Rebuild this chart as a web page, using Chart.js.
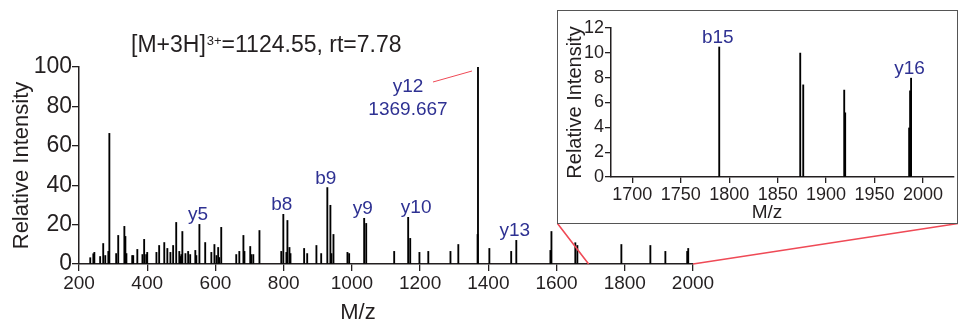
<!DOCTYPE html>
<html>
<head>
<meta charset="utf-8">
<script src="https://cdn.jsdelivr.net/npm/chart.js@4.4.1/dist/chart.umd.min.js"></script>
<style>
  html, body { margin: 0; padding: 0; background: #fff; }
  #wrap { position: relative; width: 959px; height: 321px; overflow: hidden; }
  #main { position: absolute; left: 0; top: 0; }
  #inset-box { position: absolute; left: 557px; top: 10px; width: 401px; height: 214px;
               box-sizing: border-box; border: 1px solid #555; background: #fff; }
  #inset { display: block; }
</style>
</head>
<body>
<div id="wrap">
  <canvas id="main" width="959" height="321"></canvas>
  <div id="inset-box"><canvas id="inset" width="399" height="212"></canvas></div>
</div>
<script>
// --- DATA ---
const mainMz = [233, 242, 245, 262, 271, 277, 286, 289, 309, 315, 333, 336, 339, 356, 359, 371, 386, 391, 397, 400,
    427, 435, 450, 459, 468, 476, 485, 494, 497, 500, 503, 512, 520, 526, 541, 544, 553, 570, 588, 597,
    603, 608, 611, 617, 661, 670, 682, 685, 702, 705, 711, 729, 793, 799, 808, 811, 817, 820, 860, 869,
    896, 910, 928, 937, 940, 946, 987, 992, 1036, 1042, 1124, 1165, 1171, 1198, 1224, 1289, 1312, 1368.5, 1369.667, 1403,
    1467, 1482, 1582, 1585, 1655, 1661, 1790, 1875, 1919, 1983, 1986];
const mainIntensity = [3.2, 5.2, 5.9, 3.8, 10.4, 4.3, 6.4, 66.3, 5.3, 14.5, 19.1, 14.0, 5.3, 4.3, 4.3, 7.4, 4.8, 12.5, 4.8, 5.9,
    5.9, 9.4, 10.9, 7.9, 5.9, 9.4, 21.1, 6.4, 3.8, 4.8, 16.5, 5.3, 6.4, 4.8, 6.9, 4.3, 20.1, 10.9, 5.9, 9.9,
    4.3, 8.4, 3.3, 18.6, 4.8, 6.4, 14.5, 6.4, 8.9, 4.8, 4.8, 17.0, 6.4, 25.2, 5.9, 22.1, 8.4, 5.3, 7.9, 5.3,
    9.4, 5.3, 38.8, 29.8, 5.3, 15.0, 5.9, 5.3, 23.2, 20.6, 6.4, 23.7, 13.0, 5.9, 6.4, 6.4, 9.9, 15.0, 100, 7.9,
    6.4, 12.0, 6.9, 16.5, 10.8, 9.4, 9.9, 9.4, 6.4, 6.4, 7.9];
const mainXTicks = [200, 400, 600, 800, 1000, 1200, 1400, 1600, 1800, 2000];
const mainYTicks = [0, 20, 40, 60, 80, 100];

const ionNames = ['y5', 'b8', 'b9', 'y9', 'y10', 'y13'];
const ionMz = [553, 799, 928, 1036, 1165, 1482];
const baseIonName = 'y12';
const baseIonMz = 1369.667;

const insetMz = [1789.7, 1873.3, 1876.4, 1918.7, 1919.7, 1985.7, 1986.7, 1987.7];
const insetIntensity = [10.47, 9.98, 7.42, 7.0, 5.17, 3.95, 6.94, 7.96];
const insetXTicks = [1700, 1750, 1800, 1850, 1900, 1950, 2000];
const insetYTicks = [0, 2, 4, 6, 8, 10, 12];
const insetIonNames = ['b15', 'y16'];
const insetIonMz = [1789.7, 1987.7];

const zoomRange = [1694, 2000];

// --- STYLE ---
const FONT = '"Liberation Sans", Arial, sans-serif';
const INK = '#231f20';
const ION_BLUE = '#2e3192';
const RED = '#ef4a56';
const ionNudge = { y10: 8 };

function axisOpts(min, max, ticks, fit, fontSize, tickLen, pad) {
    return {
        type: 'linear', min: min, max: max, offset: false,
        afterBuildTicks: s => { s.ticks = ticks.map(v => ({ value: v })); },
        afterFit: fit,
        grid: { display: true, offset: false, drawOnChartArea: false, drawTicks: true, tickLength: tickLen, color: INK, lineWidth: 1.3 },
        border: { display: true, color: INK, width: 1.5 },
        ticks: { font: { family: FONT, size: fontSize }, color: INK, padding: pad, maxRotation: 0, autoSkip: false,
                 callback: v => String(v) }
    };
}

function drawIons(chart, names, mzs, mzArr, intArr, fontSize) {
    const { ctx, scales: { x, y } } = chart;
    ctx.save();
    ctx.fillStyle = ION_BLUE;
    ctx.font = fontSize + 'px ' + FONT;
    ctx.textAlign = 'center';
    ctx.textBaseline = 'alphabetic';
    names.forEach((name, i) => {
        const k = mzArr.indexOf(mzs[i]);
        const px = x.getPixelForValue(mzs[i]) + (ionNudge[name] !== undefined ? ionNudge[name] : -1.5);
        const py = y.getPixelForValue(intArr[k]) - 4;
        ctx.fillText(name, px, py);
    });
    ctx.restore();
}

const mainDecor = {
    id: 'mainDecor',
    afterDraw(chart) {
        const { ctx, chartArea: a, scales: { x, y } } = chart;
        ctx.save();
        // title with superscript
        ctx.fillStyle = INK;
        ctx.textBaseline = 'alphabetic';
        ctx.textAlign = 'left';
        let tx = a.left + 52;
        const ty = a.top - 15.5;
        ctx.font = '23px ' + FONT;
        ctx.fillText('[M+3H]', tx, ty);
        tx += ctx.measureText('[M+3H]').width + 1;
        ctx.font = '13px ' + FONT;
        ctx.fillText('3+', tx, ty - 7);
        tx += ctx.measureText('3+').width;
        ctx.font = '23px ' + FONT;
        ctx.fillText('=1124.55, rt=7.78', tx, ty);
        // x title
        ctx.font = '22px ' + FONT;
        ctx.textAlign = 'center';
        ctx.fillText('M/z', a.left + 279, a.bottom + 54.5);

        // base peak label + leader
        const bx = x.getPixelForValue(baseIonMz);
        const bTop = y.getPixelForValue(mainIntensity[mainMz.indexOf(baseIonMz)]);
        ctx.fillStyle = ION_BLUE;
        ctx.font = '19px ' + FONT;
        ctx.fillText(baseIonName, bx - 70, bTop + 25);
        ctx.fillText(baseIonMz.toFixed(3), bx - 70, bTop + 48);
        ctx.strokeStyle = RED;
        ctx.lineWidth = 1;
        ctx.beginPath();
        ctx.moveTo(bx - 45, bTop + 15);
        ctx.lineTo(bx - 6, bTop + 4);
        ctx.stroke();

        // zoom connectors to the inset box
        const box = document.getElementById('inset-box');
        const boxBottom = box.offsetTop + box.offsetHeight - 0.5;
        const y0 = y.getPixelForValue(0);
        ctx.lineWidth = 1.6;
        ctx.beginPath();
        ctx.moveTo(x.getPixelForValue(zoomRange[0]), y0);
        ctx.lineTo(box.offsetLeft + 0.5, boxBottom);
        ctx.moveTo(x.getPixelForValue(zoomRange[1]), y0);
        ctx.lineTo(box.offsetLeft + box.offsetWidth, boxBottom);
        ctx.stroke();
        ctx.restore();

        drawIons(chart, ionNames, ionMz, mainMz, mainIntensity, 19);
    }
};

const insetDecor = {
    id: 'insetDecor',
    afterDraw(chart) {
        const { ctx, chartArea: a } = chart;
        ctx.save();
        ctx.fillStyle = INK;
        ctx.font = '19px ' + FONT;
        ctx.textAlign = 'center';
        ctx.textBaseline = 'alphabetic';
        ctx.fillText('M/z', a.left + 156, a.bottom + 41);
        ctx.restore();
        drawIons(chart, insetIonNames, insetIonMz, insetMz, insetIntensity, 19);
    }
};

new Chart(document.getElementById('main'), {
    type: 'bar',
    data: {
        datasets: [{
            data: mainMz.map((m, i) => ({ x: m, y: mainIntensity[i] })),
            backgroundColor: '#000',
            barThickness: 1.2,
            grouped: false
        }]
    },
    options: {
        responsive: false,
        devicePixelRatio: 1,
        animation: false,
        layout: { padding: { left: 0, right: 266, top: 67, bottom: 0 } },
        plugins: { legend: { display: false }, tooltip: { enabled: false }, title: { display: false } },
        scales: {
            x: axisOpts(200, 2000, mainXTicks, s => { s.height = 57; }, 19, 7, 1),
            y: Object.assign(axisOpts(0, 100, mainYTicks, s => { s.width = 79; }, 23, 7, 0), {
                title: { display: true, text: 'Relative Intensity', color: INK, font: { family: FONT, size: 22 }, padding: { top: 9, bottom: 0 } }
            })
        }
    },
    plugins: [mainDecor]
});

new Chart(document.getElementById('inset'), {
    type: 'bar',
    data: {
        datasets: [{
            data: insetMz.map((m, i) => ({ x: m, y: insetIntensity[i] })),
            backgroundColor: '#000',
            barThickness: 1.2,
            grouped: false
        }]
    },
    options: {
        responsive: false,
        devicePixelRatio: 1,
        animation: false,
        layout: { padding: { left: 0, right: 3, top: 17, bottom: 0 } },
        plugins: { legend: { display: false }, tooltip: { enabled: false } },
        scales: {
            x: axisOpts(1678, 2032, insetXTicks, s => { s.height = 46; }, 18, 6, 1),
            y: Object.assign(axisOpts(0, 12, insetYTicks, s => { s.width = 53; }, 18, 6, 1), {
                title: { display: true, text: 'Relative Intensity', color: INK, font: { family: FONT, size: 20 }, padding: { top: 5, bottom: 0 } }
            })
        }
    },
    plugins: [insetDecor]
});
</script>
</body>
</html>
